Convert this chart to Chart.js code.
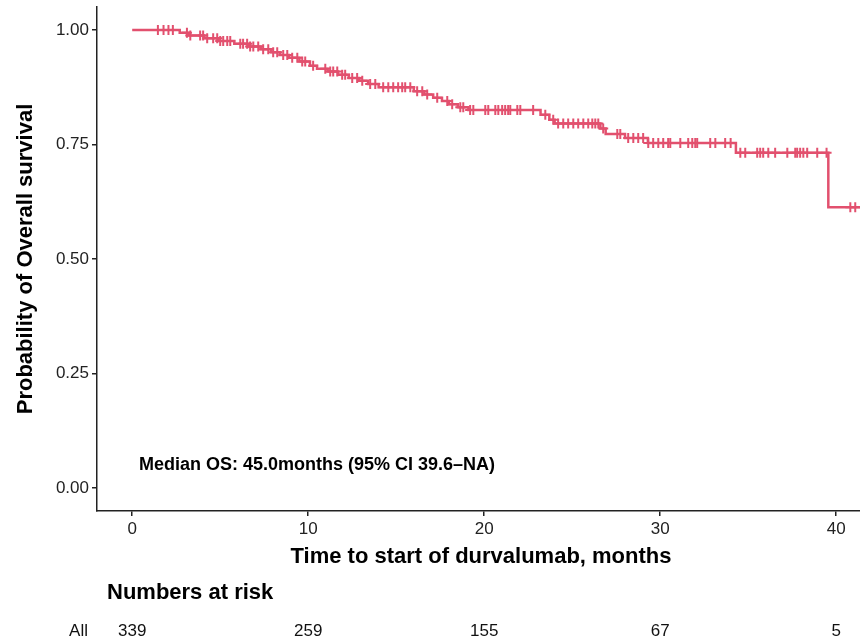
<!DOCTYPE html>
<html>
<head>
<meta charset="utf-8">
<script src="https://cdn.jsdelivr.net/npm/chart.js@4.4.1/dist/chart.umd.min.js"></script>
<style>
  html, body { margin: 0; padding: 0; background: #fff; overflow: hidden; }
  #wrap { width: 860px; height: 640px; }
</style>
</head>
<body>
<div id="wrap"><canvas id="km" width="860" height="640"></canvas></div>
<script>
// Kaplan-Meier steps (months, survival after the step)
const eventTimes = [0, 2.7, 3.2, 4.1, 4.9, 5.8, 6.6, 7.3, 7.9, 8.4, 8.9, 9.5, 10.1, 10.5, 11.1, 11.7,
  12.3, 12.9, 13.4, 14.0, 16.0, 16.6, 17.1, 17.6, 18.0, 18.5, 19.1, 23.2, 23.7, 24.0, 26.6, 26.9,
  28.0, 29.3, 34.3, 39.55, 41.35];
const survProb = [1.0, 0.994, 0.988, 0.982, 0.976, 0.970, 0.964, 0.958, 0.951, 0.945, 0.939, 0.931,
  0.922, 0.915, 0.909, 0.902, 0.895, 0.889, 0.882, 0.875, 0.866, 0.859, 0.852, 0.845, 0.838, 0.831,
  0.825, 0.815, 0.804, 0.796, 0.785, 0.773, 0.764, 0.753, 0.732, 0.613, 0.613];

// censored observations (months)
const censorTimes = [1.46, 1.78, 2.06, 2.31, 3.11, 3.3, 3.86, 4.03, 4.26, 4.6, 4.83, 5.0, 5.17, 5.4,
  5.57, 6.14, 6.3, 6.53, 6.7, 6.88, 7.16, 7.44, 7.73, 8.01, 8.24, 8.58, 8.81, 9.09, 9.38, 9.66, 9.83,
  10.28, 10.97, 11.25, 11.42, 11.65, 11.93, 12.1, 12.5, 12.78, 13.07, 13.52, 13.81, 14.26, 14.55,
  14.83, 15.11, 15.34, 15.51, 15.8, 16.19, 16.48, 16.76, 17.33, 17.9, 18.18, 18.64, 18.81, 19.2,
  19.38, 20.06, 20.23, 20.63, 20.8, 21.02, 21.19, 21.36, 21.48, 21.88, 22.05, 22.78, 23.47, 23.92,
  24.2, 24.49, 24.77, 25.06, 25.34, 25.63, 25.91, 26.14, 26.31, 26.48, 26.76, 27.56, 27.73, 28.18,
  28.47, 28.75, 29.03, 29.32, 29.6, 29.89, 30.17, 30.45, 30.57, 31.14, 31.59, 31.82, 31.99, 32.1,
  32.84, 33.13, 33.69, 34.0, 34.55, 34.83, 35.51, 35.68, 35.85, 36.14, 36.53, 37.22, 37.67, 37.78,
  37.95, 38.13, 38.35, 38.92, 39.45, 40.8, 41.08];

const xTicks = [0, 10, 20, 30, 40];
const yTicks = [0, 0.25, 0.5, 0.75, 1];
const riskTimes = [0, 10, 20, 30, 40];
const riskCounts = [339, 259, 155, 67, 5];

const lineColor = '#E2506E';
const font = '"Liberation Sans", Arial, sans-serif';

function survAt(t) {
  let s = survProb[0];
  for (let i = 0; i < eventTimes.length; i++) {
    if (eventTimes[i] <= t) s = survProb[i];
  }
  return s;
}

const textPlugin = {
  id: 'kmText',
  afterDraw(chart) {
    const c = chart.ctx;
    const x = chart.scales.x;
    c.save();
    c.fillStyle = '#000';

    // y title
    c.font = 'bold 22px ' + font;
    c.textAlign = 'center';
    c.textBaseline = 'middle';
    c.save();
    c.translate(26, (chart.chartArea.top + chart.chartArea.bottom) / 2);
    c.rotate(-Math.PI / 2);
    c.fillText('Probability of Overall survival', 0, 0);
    c.restore();

    // x title
    c.fillText('Time to start of durvalumab, months', 481, 557);

    // median annotation
    c.font = 'bold 18px ' + font;
    c.textAlign = 'left';
    c.fillText('Median OS: 45.0months (95% CI 39.6\u2013NA)', 139, 465);

    // risk table
    c.font = 'bold 22px ' + font;
    c.fillText('Numbers at risk', 107, 593);
    c.font = '17px ' + font;
    c.fillStyle = '#111';
    c.textAlign = 'right';
    c.fillText('All', 88, 631);
    c.textAlign = 'center';
    riskTimes.forEach((t, i) => {
      c.fillText(String(riskCounts[i]), x.getPixelForValue(t), 631);
    });
    c.restore();
  }
};

const ctx = document.getElementById('km').getContext('2d');
new Chart(ctx, {
  data: {
    datasets: [{
      type: 'line',
      data: eventTimes.map((t, i) => ({ x: t, y: survProb[i] })),
      stepped: 'before',
      borderColor: lineColor,
      borderWidth: 2.5,
      pointRadius: 0,
      fill: false
    }, {
      type: 'scatter',
      data: censorTimes.map(t => ({ x: t, y: survAt(t) })),
      pointStyle: 'cross',
      pointRadius: 5,
      borderColor: lineColor,
      borderWidth: 2,
      backgroundColor: lineColor
    }]
  },
  options: {
    responsive: false,
    animation: false,
    events: [],
    layout: { autoPadding: false, padding: { top: 7, left: 0, right: 0, bottom: 0 } },
    plugins: { legend: { display: false }, tooltip: { enabled: false } },
    scales: {
      x: {
        type: 'linear',
        min: -2,
        max: 41.35,
        afterBuildTicks: s => { s.ticks = xTicks.map(v => ({ value: v })); },
        afterFit: s => { s.height = 129; s.paddingLeft = 0; s.paddingRight = 0; },
        grid: { drawOnChartArea: false, drawTicks: true, tickLength: 5, color: '#222', lineWidth: 1.5 },
        border: { display: true, color: '#222', width: 1.5 },
        ticks: { color: '#222', font: { family: font, size: 17 }, padding: 3, maxRotation: 0 }
      },
      y: {
        type: 'linear',
        min: -0.05,
        max: 1.05,
        afterBuildTicks: s => { s.ticks = yTicks.map(v => ({ value: v })); },
        afterFit: s => { s.width = 97; s.paddingTop = 0; s.paddingBottom = 0; },
        grid: { drawOnChartArea: false, drawTicks: true, tickLength: 5, color: '#222', lineWidth: 1.5 },
        border: { display: true, color: '#222', width: 1.5 },
        ticks: { color: '#222', font: { family: font, size: 17 }, padding: 3,
          callback: v => Number(v).toFixed(2) }
      }
    }
  },
  plugins: [textPlugin]
});
</script>
</body>
</html>
